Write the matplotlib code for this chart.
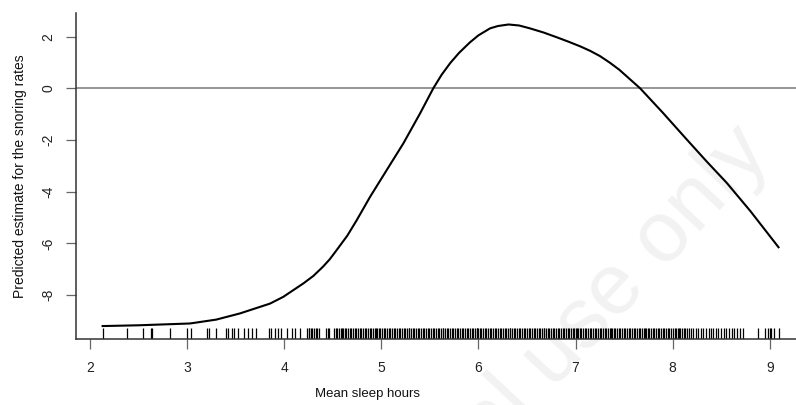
import matplotlib
matplotlib.use("Agg")
import matplotlib.pyplot as plt

plt.rcParams['font.family'] = ['Liberation Sans', 'DejaVu Sans']

# fitted curve
sleep_hours = [2.13, 2.5, 3.03, 3.3, 3.545, 3.854, 3.99, 4.197, 4.3, 4.4, 4.47,
               4.54, 4.65, 4.747, 4.884, 5.056, 5.227, 5.399, 5.535, 5.62, 5.71,
               5.80, 5.91, 6.0, 6.12, 6.2, 6.31, 6.42, 6.53, 6.67, 6.81, 6.93,
               7.05, 7.15, 7.25, 7.35, 7.45, 7.665, 7.9, 8.145, 8.35, 8.557, 8.8,
               9.09]
estimate = [-9.20, -9.17, -9.10, -8.95, -8.71, -8.33, -8.07, -7.55, -7.26, -6.90,
            -6.61, -6.26, -5.70, -5.10, -4.20, -3.16, -2.13, -0.97, 0.0, 0.52,
            0.98, 1.37, 1.77, 2.05, 2.32, 2.41, 2.47, 2.43, 2.32, 2.16, 1.97,
            1.80, 1.62, 1.45, 1.25, 1.00, 0.72, 0.0, -0.95, -1.98, -2.83, -3.66,
            -4.75, -6.15]

# observed mean sleep hours (rug)
rug_low = [2.13, 2.38, 2.55, 2.63, 2.64, 2.82, 3.00, 3.04, 3.20, 3.23, 3.30,
           3.40, 3.42, 3.46, 3.48, 3.52, 3.59, 3.63, 3.67, 3.71, 3.84, 3.86,
           3.90, 3.94, 3.97, 4.03, 4.08, 4.11, 4.16]
rug_4 = [4.23, 4.25, 4.26, 4.28, 4.29, 4.31, 4.33, 4.34, 4.36, 4.43, 4.45, 4.46,
         4.51, 4.53, 4.54, 4.56, 4.58, 4.59, 4.61, 4.63, 4.64, 4.66, 4.68, 4.69,
         4.71, 4.73, 4.74, 4.76, 4.78, 4.79, 4.81, 4.83, 4.84, 4.86, 4.88, 4.89,
         4.91, 4.93, 4.94, 4.96, 4.98, 4.99]
rug_5 = [5.01, 5.03, 5.04, 5.06, 5.08, 5.09, 5.11, 5.13, 5.14, 5.16, 5.18, 5.19,
         5.21, 5.23, 5.24, 5.26, 5.28, 5.29, 5.31, 5.33, 5.34, 5.36, 5.38, 5.39,
         5.41, 5.43, 5.44, 5.46, 5.48, 5.49, 5.51, 5.53, 5.54, 5.56, 5.58, 5.59,
         5.61, 5.63, 5.64, 5.66, 5.68, 5.69, 5.71, 5.73, 5.74, 5.76, 5.78, 5.79,
         5.81, 5.83, 5.84, 5.86, 5.88, 5.89, 5.91, 5.93, 5.94, 5.96, 5.98, 5.99]
rug_6 = [6.00, 6.02, 6.03, 6.05, 6.07, 6.08, 6.10, 6.12, 6.13, 6.15, 6.17, 6.18,
         6.20, 6.22, 6.23, 6.25, 6.27, 6.28, 6.30, 6.32, 6.33, 6.35, 6.37, 6.38,
         6.40, 6.42, 6.43, 6.45, 6.47, 6.48, 6.50, 6.52, 6.53, 6.55, 6.57, 6.58,
         6.60, 6.62, 6.63, 6.65, 6.67, 6.68, 6.70, 6.72, 6.73, 6.75, 6.77, 6.78,
         6.80, 6.82, 6.83, 6.85, 6.87, 6.88, 6.90, 6.92, 6.93, 6.95, 6.97, 6.98]
rug_7 = [7.00, 7.01, 7.03, 7.05, 7.06, 7.08, 7.10, 7.11, 7.13, 7.15, 7.16, 7.18,
         7.20, 7.21, 7.23, 7.25, 7.26, 7.28, 7.30, 7.31, 7.33, 7.35, 7.36, 7.38,
         7.40, 7.41, 7.43, 7.45, 7.46, 7.48, 7.50, 7.51, 7.53, 7.55, 7.56, 7.58,
         7.60, 7.61, 7.63, 7.65, 7.66, 7.68, 7.70, 7.71, 7.73, 7.75, 7.76, 7.78,
         7.80, 7.81, 7.83, 7.85, 7.86, 7.88, 7.90, 7.91, 7.93, 7.95, 7.96, 7.98]
rug_8 = [8.00, 8.02, 8.03, 8.05, 8.07, 8.08, 8.10, 8.12, 8.13, 8.15, 8.17, 8.19,
         8.21, 8.24, 8.26, 8.29, 8.31, 8.34, 8.37, 8.39, 8.42, 8.45, 8.47, 8.50,
         8.53, 8.55, 8.58, 8.61, 8.63, 8.66, 8.69, 8.72]
rug_high = [8.88, 8.95, 8.98, 9.00, 9.01, 9.04, 9.09]

x_ticks = [2, 3, 4, 5, 6, 7, 8, 9]
y_ticks = [2, 0, -2, -4, -6, -8]

rug = rug_low + rug_4 + rug_5 + rug_6 + rug_7 + rug_8 + rug_high

fig = plt.figure(figsize=(7.96, 4.05), dpi=100)
ax = fig.add_axes([0.0955, 0.163, 0.9045, 0.804])

# watermark, kept behind the plot
fig.text(0.95, 0.655, 'For personal use only', fontsize=62, color='#f2f2f2',
         rotation=47, rotation_mode='anchor', ha='right', va='center', zorder=-1)
ax.set_facecolor('none')

ax.axhline(0, color='#8c8c8c', lw=1.3, zorder=1)
ax.plot(sleep_hours, estimate, color='black', lw=1.5, zorder=3)
ax.vlines(rug, 0, 0.033, transform=ax.get_xaxis_transform(), color='black', lw=0.9)

ax.set_xlim(1.856, 9.27)
ax.set_ylim(-9.70, 2.90)
ax.set_xticks(x_ticks)
ax.set_yticks(y_ticks)
ax.set_yticklabels([str(v) for v in y_ticks], rotation=90, va='center')

for side in ['top', 'right']:
    ax.spines[side].set_visible(False)
for side in ['left', 'bottom']:
    ax.spines[side].set_linewidth(1.1)
    ax.spines[side].set_color('#333333')

ax.tick_params(axis='both', length=7, width=0.9, color='#666666',
               labelsize=10, labelcolor='#222222')
ax.tick_params(axis='x', pad=9)
ax.tick_params(axis='y', pad=8)

ax.set_xlabel('Mean sleep hours', fontsize=9.5, color='#111111')
ax.xaxis.set_label_coords(0.405, -0.152)
ax.set_ylabel('Predicted estimate for the snoring rates', fontsize=10, color='#111111')
ax.yaxis.set_label_coords(-0.068, 0.5)

fig.savefig('out.png', dpi=100)
